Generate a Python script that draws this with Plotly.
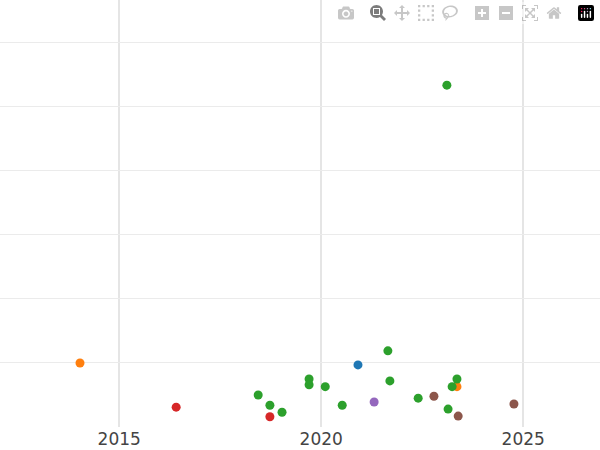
import plotly.graph_objects as go

years = [2014.03, 2016.41, 2018.44, 2018.73, 2018.73, 2019.03, 2019.70, 2019.70, 2020.10, 2020.52,
         2020.91, 2021.31, 2021.65, 2021.70, 2022.40, 2022.79, 2023.11, 2023.14, 2023.36, 2023.24,
         2023.36, 2023.39, 2024.77]
values = [1.00, 0.31, 0.50, 0.34, 0.16, 0.23, 0.75, 0.66, 0.63, 0.34,
          0.97, 0.39, 1.19, 0.72, 0.45, 0.48, 5.34, 0.28, 0.63, 0.63,
          0.75, 0.17, 0.36]
groups = ["orange", "red", "green", "green", "red", "green", "green", "green", "green", "green",
          "blue", "purple", "green", "green", "green", "brown", "green", "green", "orange", "green",
          "green", "brown", "brown"]
palette = {"blue": "#1f77b4", "orange": "#ff7f0e", "green": "#2ca02c", "red": "#d62728",
           "purple": "#9467bd", "brown": "#8c564b"}

fig = go.Figure(go.Scatter(
    x=years, y=values, mode="markers",
    marker=dict(size=9, color=[palette[g] for g in groups]),
    showlegend=False))

fig.update_layout(
    width=600, height=450, margin=dict(l=0, r=0, t=0, b=23),
    paper_bgcolor="white", plot_bgcolor="white",
    font=dict(family="DejaVu Sans", size=17, color="#444"),
)
fig.update_xaxes(range=[2012.05, 2026.9], tickvals=[2015, 2020, 2025], showgrid=True,
                 gridcolor="#e5e5e5", gridwidth=1.5, zeroline=False, showline=False, ticks="")
fig.update_yaxes(range=[0, 6.67], dtick=1, showticklabels=False, showgrid=True,
                 gridcolor="#ebebeb", zeroline=False, showline=False)
fig.write_html("out.html", post_script="document.body.style.margin='0';")
